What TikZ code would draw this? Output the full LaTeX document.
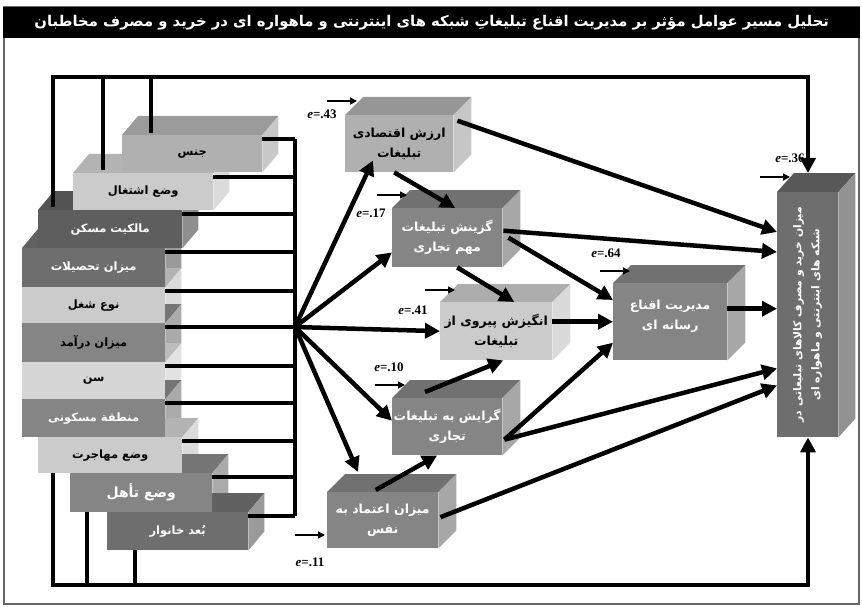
\documentclass[tikz,border=0pt]{standalone}
\usepackage{fontspec}
\setmainfont{Liberation Serif}
\newfontfamily\farsi[Script=Arabic]{DejaVu Sans}
\TeXXeTstate=1
\usetikzlibrary{calc,positioning,arrows.meta}
\pgfdeclarelayer{back}
\pgfsetlayers{back,main}
\definecolor{palegrey}{HTML}{D6D6D6}
\definecolor{lightgrey}{HTML}{CBCBCB}
\definecolor{midgrey}{HTML}{B0B0B0}
\definecolor{greybox}{HTML}{858585}
\definecolor{darkgrey}{HTML}{6E6E6E}
\definecolor{deepgrey}{HTML}{5E5E5E}
\newcommand{\fa}[1]{{\farsi\bfseries\beginR #1\endR}}
\tikzset{
	block/.style={anchor=north west, inner sep=0pt, align=center, font=\fontsize{11.5}{19}\selectfont},
	marital label/.style={font=\fontsize{14}{16}\selectfont},
	F label/.style={text depth=14pt},
	wire/.style={line width=4.5pt},
	link/.style={line width=4.5pt, -{Triangle[length=15pt,width=15pt]}},
	err/.style={line width=1.4pt, -{Triangle[length=7pt,width=7pt]}},
	elabel/.style={inner sep=0pt, font=\fontsize{13}{15}\selectfont\bfseries},
}

\begin{document}
\begin{tikzpicture}[x=1pt,y=-1pt]
	\useasboundingbox (0,0) rectangle (862,607);
	\draw[black!60, line width=1.2pt] (4,7) rectangle (859,604);
	\node[fill=black, anchor=north west, inner sep=0pt, minimum width=857pt, minimum height=31pt,
		text=white, font=\fontsize{14.8}{16}\selectfont] (titlebar) at (3,7)
		{\fa{تحلیل مسیر عوامل مؤثر بر مدیریت اقناع تبلیغاتِ شبکه های اینترنتی و ماهواره ای در خرید و مصرف مخاطبان}};
	% background variables
	\foreach \n/\px/\py/\w/\h/\c/\tc/\t in {
		sex/122/135/140/37/midgrey/black/جنس,
		job/73/173/140/37/lightgrey/black/وضع اشتغال,
		home/38/210/144/38/deepgrey/white/مالکیت مسکن,
		edu/22/248/143/39/darkgrey/white/میزان تحصیلات,
		work/22/287/143/36/lightgrey/black/نوع شغل,
		income/22/323/143/39/greybox/black/میزان درآمد,
		age/22/362/143/37/palegrey/black/سن,
		region/22/399/143/38/greybox/white/منطقة مسکونی,
		migr/38/437/144/36/lightgrey/black/وضع مهاجرت,
		marital/70/473/142/39/greybox/white/وضع تأهل,
		family/107/512/141/38/darkgrey/white/بُعد خانوار}{
		\node[block, \n\space label/.try, fill=\c, text=\tc, minimum width=\w*1pt, minimum height=\h*1pt] (\n) at (\px,\py) {\fa{\t}};
		\begin{pgfonlayer}{back}
			\fill[\c!88!black] (\n.north west) -- ++(16,-19) -- ($(\n.north east)+(16,-19)$) -- (\n.north east) -- cycle;
			\fill[\c!70!white] (\n.north east) -- ++(16,-19) -- ($(\n.south east)+(16,-19)$) -- (\n.south east) -- cycle;
		\end{pgfonlayer}
	}
	% mediating variables
	\foreach \n/\px/\py/\w/\h/\c/\tc/\ta/\tb in {
		A/345/115/108/57/midgrey/black/ارزش اقتصادی/تبلیغات,
		B/392/208/110/59/greybox/white/گزینش تبلیغات/مهم تجاری,
		C/440/302/112/58/lightgrey/black/انگیزش پیروی از/تبلیغات,
		D/392/398/110/57/greybox/white/گرایش به تبلیغات/تجاری,
		E/327/492/111/56/greybox/white/میزان اعتماد به/نفس,
		F/613/283/114/77/greybox/white/مدیریت اقناع/رسانه ای}{
		\node[block, \n\space label/.try, font=\fontsize{12.5}{20}\selectfont, fill=\c, text=\tc,
			minimum width=\w*1pt, minimum height=\h*1pt] (\n) at (\px,\py) {\fa{\ta}\\\fa{\tb}};
		\begin{pgfonlayer}{back}
			\fill[\c!85!black] (\n.north west) -- ++(18,-18) -- ($(\n.north east)+(18,-18)$) -- (\n.north east) -- cycle;
			\fill[\c!72!white] (\n.north east) -- ++(18,-18) -- ($(\n.south east)+(18,-18)$) -- (\n.south east) -- cycle;
		\end{pgfonlayer}
	}
	\node[block, fill=darkgrey, minimum width=61pt, minimum height=245pt] (G) at (777,192) {};
	\begin{pgfonlayer}{back}
		\fill[darkgrey!80!black] (G.north west) -- ++(17,-19) -- ($(G.north east)+(17,-19)$) -- (G.north east) -- cycle;
		\fill[darkgrey!75!white] (G.north east) -- ++(17,-19) -- ($(G.south east)+(17,-19)$) -- (G.south east) -- cycle;
	\end{pgfonlayer}
	\node[rotate=90, text=white, align=center, font=\fontsize{10.8}{18}\selectfont] (G-text) at (G.center)
		{\fa{میزان خرید و مصرف کالاهای تبلیغاتی در}\\\fa{شبکه های اینترنتی و ماهواره ای}};
	% bus on the right of the stack
	\coordinate (bus) at (295,0);
	\foreach \n in {sex,job,home,edu,work,income,age,region,migr,marital,family}
		\draw[wire] ($(\n.north east)+(0,4)$) coordinate (w-\n) -- (w-\n -| bus);
	\draw[wire] (w-sex -| bus) -- (w-family -| bus);
	\coordinate (hub) at (w-income -| bus);
	\draw[link] (hub) -- ($(A.south west)+(28,-12)$);
	\draw[link] (hub) -- ($(B.south west)+(0,-15)$);
	\draw[link] (hub) -- (C.west);
	\draw[link] (hub) -- ($(D.west)+(0,-6)$);
	\draw[link] (hub) -- ($(E.north west)+(31,-20)$);
	% top and bottom lines to G
	\coordinate (top) at (0,77);
	\coordinate (bot) at (0,585);
	\coordinate (gin) at ($(G.north west)+(31,-19)$);
	\coordinate (gout) at ($(G.south west)+(31,0)$);
	\draw[link] ($(home.north west)+(15,-3)$) |- (gin |- top) -- (gin);
	\draw[wire] ($(job.north west)+(30,-3)$) coordinate (t-job) -- (t-job |- top);
	\draw[wire] ($(sex.north west)+(29,-2)$) coordinate (t-sex) -- (t-sex |- top);
	\draw[link] ($(migr.south west)+(15,0)$) |- (gout |- bot) -- (gout);
	\draw[wire] ($(marital.south west)+(17,0)$) coordinate (b-marital) -- (b-marital |- bot);
	\draw[wire] ($(family.south west)+(28,0)$) coordinate (b-family) -- (b-family |- bot);
	% paths between the mediators
	\draw[link] ($(A.south)+(-5,0)$) -- ($(B.north)+(8,0)$);
	\draw[link] ($(A.east)+(4,-23)$) -- ($(G.north west)+(0,40)$);
	\draw[link] ($(B.east)+(1,-7)$) -- ($(G.north west)+(0,60)$);
	\draw[link] ($(B.east)+(6,0)$) -- ($(F.north west)+(0,17)$);
	\draw[link] ($(B.south)+(10,0)$) -- ($(C.north)+(18,0)$);
	\draw[link] (C.east |- F.west) -- (F.west);
	\draw[link] ($(D.north west)+(33,-6)$) -- ($(C.south)+(7,0)$);
	\draw[link] ($(D.east)+(2,13)$) -- ($(F.west)+(0,21)$);
	\draw[link] ($(D.east)+(2,13)$) -- ($(G.south west)+(0,-69)$);
	\draw[link] ($(E.north)+(-7,-2)$) -- ($(D.south)+(-10,0)$);
	\draw[link] ($(E.east)+(2,-3)$) -- ($(G.south west)+(0,-52)$);
	\coordinate (fg) at ($(F.east)+(0,-13)$);
	\draw[link] (fg) -- (fg -| G.west);
	% error terms
	\foreach \n/\ax/\ay/\lx/\ly/\v in {A/-18/-14/-23/-1/43, B/-15/-13/-21/5/17, C/-15/-12/-27/8/41,
		D/-17/-13/-3/-31/10, E/-32/43/-17/70/11, F/-13/-12/-7/-30/64, G/-17/-15/13/-34/36}{
		\node[elabel] (e-\n) at ($(\n.north west)+(\lx,\ly)$) {\textit{e}=.\v};
		\draw[err] ($(\n.north west)+(\ax,\ay)$) coordinate (s-\n) -- ++(30,0);
	}
\end{tikzpicture}
\end{document}
